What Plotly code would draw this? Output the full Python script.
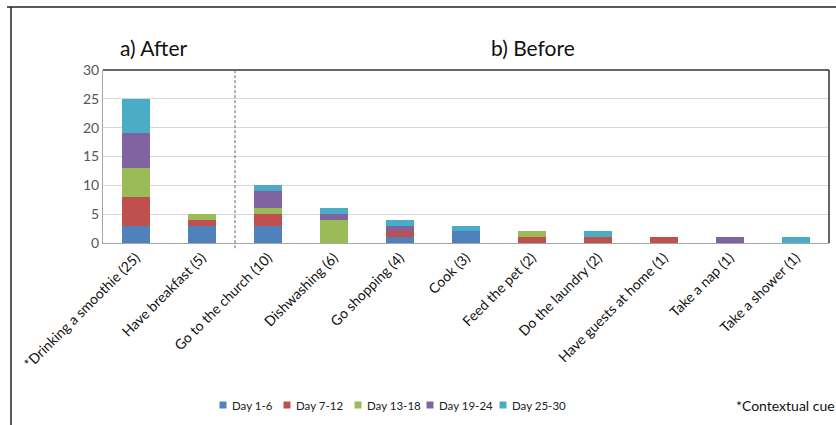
import plotly.graph_objects as go

# actividades (eje x) y conteos por periodo
actividades = ["*Drinking a smoothie (25)", "Have breakfast (5)", "Go to the church (10)",
               "Dishwashing (6)", "Go shopping (4)", "Cook (3)", "Feed the pet (2)",
               "Do the laundry (2)", "Have guests at home (1)", "Take a nap (1)",
               "Take a shower (1)"]
periodos = ["Day 1-6", "Day 7-12", "Day 13-18", "Day 19-24", "Day 25-30"]
dia_1_6 = [3, 3, 3, 0, 1, 2, 0, 0, 0, 0, 0]
dia_7_12 = [5, 1, 2, 0, 1, 0, 1, 1, 1, 0, 0]
dia_13_18 = [5, 1, 1, 4, 0, 0, 1, 0, 0, 0, 0]
dia_19_24 = [6, 0, 3, 1, 1, 0, 0, 0, 0, 1, 0]
dia_25_30 = [6, 0, 1, 1, 1, 1, 0, 1, 0, 0, 1]
colores = ["#4F81BD", "#C0504D", "#9BBB59", "#8064A2", "#4BACC6"]

W, H = 836, 425
L, R, T, B = 103, 7, 70, 182
pw, ph = W - L - R, H - T - B

def px_x(p):
    return (p - L) / pw

def px_y(p):
    return (H - B - p) / ph

fig = go.Figure()
for nombre, valores, c in zip(periodos, [dia_1_6, dia_7_12, dia_13_18, dia_19_24, dia_25_30], colores):
    fig.add_trace(go.Bar(x=actividades, y=valores, name=nombre, marker=dict(color=c, line=dict(width=0))))

fig.update_layout(
    width=W, height=H,
    margin=dict(l=L, r=R, t=T, b=B, autoexpand=False),
    barmode="stack", bargap=0.59,
    plot_bgcolor="white", paper_bgcolor="white",
    font=dict(family="Lato, sans-serif", size=12, color="#222"),
    showlegend=False,
)
fig.update_xaxes(tickangle=-45, showline=True, linecolor="#a6a6a6", linewidth=1,
                 ticks="", tickfont=dict(size=14, color="#111"), showgrid=False)
fig.update_yaxes(range=[0, 30], dtick=5, showgrid=True, gridcolor="#d9d9d9",
                 showline=True, linecolor="#a6a6a6", linewidth=1, zeroline=False,
                 tickfont=dict(size=14, color="#555"), ticks="", ticklen=0)

# borde superior y derecho del área de trazado
fig.add_shape(type="line", xref="paper", yref="paper", x0=0, x1=1, y0=1, y1=1,
              line=dict(color="#333", width=1.5))
fig.add_shape(type="line", xref="paper", yref="paper", x0=1, x1=1, y0=0, y1=1,
              line=dict(color="#333", width=1.5))
# separación after / before
fig.add_shape(type="line", xref="x", yref="paper", x0=1.5, x1=1.5, y0=-0.03, y1=1,
              line=dict(color="#666", width=1, dash="3px,2px"))
# marco de la figura
fig.add_shape(type="line", xref="paper", yref="paper", x0=px_x(7), x1=px_x(836),
              y0=px_y(7), y1=px_y(7), line=dict(color="#222", width=1.5))
fig.add_shape(type="line", xref="paper", yref="paper", x0=px_x(11), x1=px_x(11),
              y0=px_y(7), y1=px_y(425), line=dict(color="#222", width=1.5))

# leyenda dibujada a mano (posiciones del original)
ley_x = [223, 287, 358, 430, 503]
ley_y = 405
for nombre, c, xm in zip(periodos, colores, ley_x):
    fig.add_shape(type="rect", xref="paper", yref="paper",
                  x0=px_x(xm - 3.5), x1=px_x(xm + 3.5), y0=px_y(ley_y + 3.5), y1=px_y(ley_y - 3.5),
                  fillcolor=c, line=dict(width=0))
    fig.add_annotation(text=nombre, xref="paper", yref="paper", x=px_x(xm + 7), y=px_y(ley_y),
                       xanchor="left", yanchor="middle", showarrow=False,
                       font=dict(size=11.5, color="#222"))

fig.add_annotation(text="a) After", xref="paper", yref="paper", x=px_x(118), y=px_y(48),
                   xanchor="left", yanchor="middle", showarrow=False, font=dict(size=21, color="#111"))
fig.add_annotation(text="b) Before", xref="paper", yref="paper", x=px_x(489), y=px_y(48),
                   xanchor="left", yanchor="middle", showarrow=False, font=dict(size=21, color="#111"))
fig.add_annotation(text="*Contextual cue", xref="paper", yref="paper", x=px_x(734), y=px_y(405),
                   xanchor="left", yanchor="middle", showarrow=False, font=dict(size=14, color="#111"))

fig.write_html("out.html", config={"displayModeBar": False},
               post_script="document.body.style.margin='0';")
